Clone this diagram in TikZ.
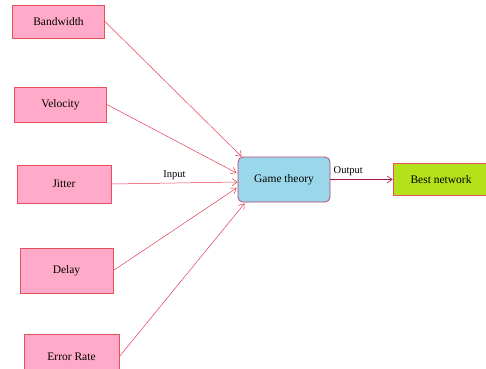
\documentclass[tikz,border=0pt]{standalone}
\usepackage{fontspec}
\setmainfont{Liberation Serif}
\usetikzlibrary{arrows.meta,calc}
\definecolor{boxpink}{RGB}{255,170,200}
\definecolor{edgered}{RGB}{232,80,90}
\definecolor{linered}{RGB}{228,60,85}
\definecolor{boxblue}{RGB}{155,215,235}
\definecolor{edgeplum}{RGB}{176,72,112}
\definecolor{boxlime}{RGB}{180,225,25}
\definecolor{outred}{RGB}{170,20,60}
\tikzset{
    param/.style = {
        draw=edgered,
        fill=boxpink,
        rectangle,
        line width=0.8pt,
        minimum height=35pt,
        minimum width=92pt,
        font=\fontsize{11.5}{13}\selectfont
    },
    engine/.style = {
        draw=edgeplum,
        fill=boxblue,
        rectangle,
        rounded corners=5pt,
        line width=0.8pt,
        minimum height=45pt,
        minimum width=92pt,
        font=\fontsize{11.5}{13}\selectfont
    },
    result/.style = {
        draw=edgered,
        fill=boxlime,
        rectangle,
        line width=0.8pt,
        minimum height=32pt,
        minimum width=96pt,
        font=\fontsize{11.5}{13}\selectfont
    },
    feed/.style = {->,draw=linered,line width=0.5pt},
    lbl/.style = {font=\fontsize{10.5}{12}\selectfont,inner sep=3pt}
}
\begin{document}
\begin{tikzpicture}[>={Straight Barb[length=5pt,width=7pt]}]
            \useasboundingbox (0pt,0pt) rectangle (486pt,-368pt);
            % nodes
            \node [param,minimum height=33pt] (bandwidth) at (58.5pt,-21.5pt) {Bandwidth};
            \node [param,below of=bandwidth,node distance=83pt,xshift=2pt] (velocity) {Velocity};
            \node [param,below of=velocity,node distance=79.5pt,xshift=3.5pt,minimum height=38pt,minimum width=94pt] (jitter) {Jitter};
            \node [param,below of=jitter,node distance=86.5pt,xshift=2.5pt,minimum height=45pt,minimum width=93pt] (delay) {Delay};
            \node [param,below of=delay,node distance=86pt,xshift=5pt,minimum height=45pt,minimum width=95pt] (errorrate) {Error Rate};

            \node [engine,right of=jitter,node distance=220pt,yshift=4.5pt] (game) {Game theory};
            \node [result,right of=game,node distance=157pt] (best) {Best network};

            % arrows
            \draw [feed] (bandwidth.east) -- ($(game.north west)+(4pt,0pt)$);
            \draw [feed] (velocity.east) -- ($(game.west)+(-1pt,6.5pt)$);
            \draw [feed] (jitter.east) -- node[lbl,above] {Input} ($(game.west)+(0pt,-2.5pt)$);
            \draw [feed] (delay.east) -- ($(game.west)+(-1pt,-8.5pt)$);
            \draw [feed] (errorrate.east) -- ($(game.south west)+(7pt,-1pt)$);
            \draw [->,draw=outred,line width=0.6pt] (game.east) -- node[lbl,above right,pos=0] {Output} (best.west);
\end{tikzpicture}
\end{document}
